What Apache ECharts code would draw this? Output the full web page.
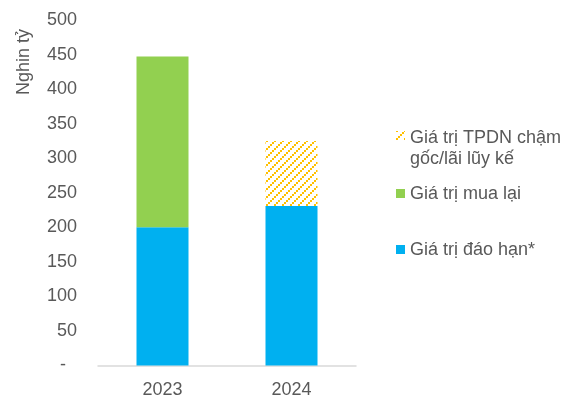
<!DOCTYPE html>
<html>
<head>
<meta charset="utf-8">
<script src="https://cdn.jsdelivr.net/npm/echarts@6/dist/echarts.min.js"></script>
<style>
html,body{margin:0;padding:0;background:#fff;}
#c{width:573px;height:396px;}
</style>
</head>
<body>
<div id="c"></div>
<script>
var categories = ['2023', '2024'];
var maturityValues = [200, 231];
var buybackValues = [247, 0];
var delayedValues = [0, 94];
var seriesNames = ['Giá trị đáo hạn*', 'Giá trị mua lại', 'Giá trị TPDN chậm\ngốc/lãi lũy kế'];
var yAxisName = 'Nghin tỷ';

var FONT = '"Liberation Sans", Arial, sans-serif';
var TXT = '#595959';

// hatch pattern
var pc = document.createElement('canvas');
pc.width = 8; pc.height = 8;
var px = pc.getContext('2d');
px.fillStyle = '#ffffff';
px.fillRect(0, 0, 8, 8);
px.fillStyle = '#FFC000';
px.fillRect(6, 0, 2, 2);
px.fillRect(4, 2, 2, 2);
px.fillRect(2, 4, 2, 2);
px.fillRect(0, 6, 2, 2);
var hatch = { image: pc, repeat: 'repeat' };

var chart = echarts.init(document.getElementById('c'), null, { renderer: 'canvas' });
chart.setOption({
  animation: false,
  backgroundColor: '#fff',
  grid: { left: 98, right: 217, top: 20, bottom: 30.5, containLabel: false, outerBoundsMode: 'none' },
  xAxis: {
    type: 'category',
    data: categories,
    axisLine: { lineStyle: { color: '#d9d9d9', width: 1.5 } },
    axisTick: { show: false },
    axisLabel: { color: TXT, fontSize: 18, fontFamily: FONT, margin: 16 }
  },
  yAxis: {
    type: 'value',
    min: 0, max: 500, interval: 50,
    axisLine: { show: false },
    axisTick: { show: false },
    splitLine: { show: false },
    axisLabel: {
      color: TXT, fontSize: 18, fontFamily: FONT, margin: 21,
      formatter: function (v) { return v === 0 ? '{d|-}' : String(v); },
      rich: { d: { color: TXT, fontSize: 18, fontFamily: FONT, padding: [0, 11, 0, 0] } }
    }
  },
  series: [
    { name: seriesNames[0], type: 'bar', stack: 's', barWidth: 52, data: maturityValues, itemStyle: { color: '#00B0F0' } },
    { name: seriesNames[1], type: 'bar', stack: 's', barWidth: 52, data: buybackValues, itemStyle: { color: '#92D050' } },
    { name: seriesNames[2], type: 'bar', stack: 's', barWidth: 52, data: delayedValues, itemStyle: { color: hatch } }
  ],
  graphic: [
    { type: 'text', x: 24, y: 62, rotation: Math.PI / 2,
      style: { text: yAxisName, fill: TXT, font: '18px ' + FONT, textAlign: 'center', textVerticalAlign: 'middle' } },
    { type: 'rect', shape: { x: 396, y: 131, width: 9, height: 9 }, style: { fill: hatch } },
    { type: 'text', x: 410, y: 128, style: { text: seriesNames[2], fill: TXT, font: '18px ' + FONT, lineHeight: 21, textVerticalAlign: 'top' } },
    { type: 'rect', shape: { x: 396, y: 189, width: 9, height: 9 }, style: { fill: '#92D050' } },
    { type: 'text', x: 410, y: 194, style: { text: seriesNames[1], fill: TXT, font: '18px ' + FONT, textVerticalAlign: 'middle' } },
    { type: 'rect', shape: { x: 396, y: 245, width: 9, height: 9 }, style: { fill: '#00B0F0' } },
    { type: 'text', x: 410, y: 250, style: { text: seriesNames[0], fill: TXT, font: '18px ' + FONT, textVerticalAlign: 'middle' } }
  ]
});
</script>
</body>
</html>
